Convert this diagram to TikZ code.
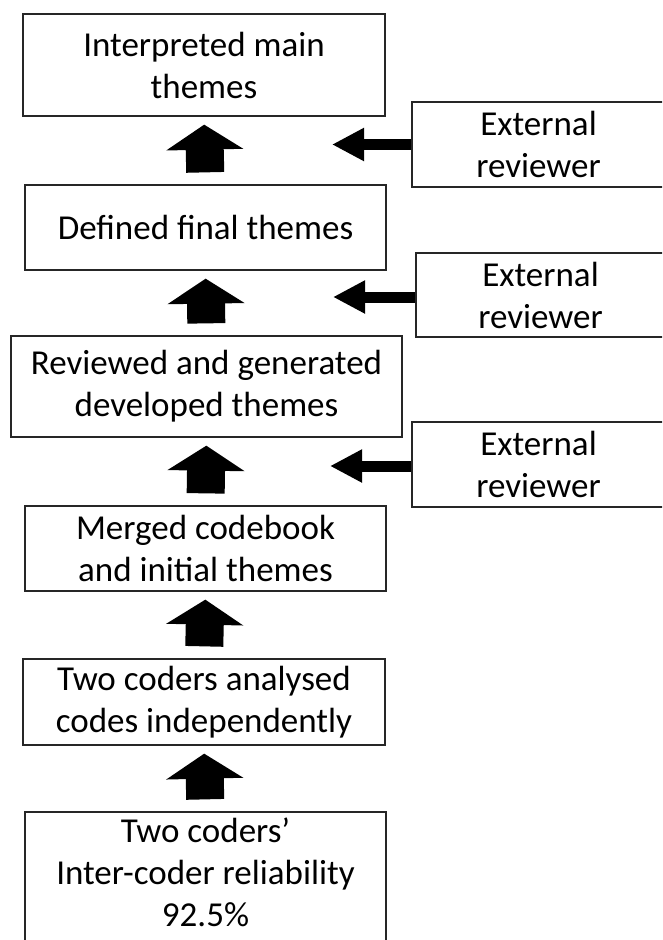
\documentclass[tikz,border=0pt]{standalone}
\usepackage{fontspec}
\setmainfont{Carlito}
\usetikzlibrary{arrows.meta}
\begin{document}
\begin{tikzpicture}[x=1pt,y=-1pt,
  box/.style={draw=black!85, line width=1.3pt, align=center, inner sep=0pt,
    font=\fontsize{35}{42}\selectfont, text=black},
  upblock/.style={line width=38pt, -{Triangle[width=76pt,length=25pt]},
    shorten <=12pt, shorten >=8pt, black},
  leftblock/.style={line width=11pt, -{Triangle[width=31pt,length=32pt]}, black}]
\useasboundingbox (0,0) rectangle (662,940);
\clip (0,0) rectangle (662,940);
\fill[white] (0,0) rectangle (662,940);
% main column
\node[box, minimum width=362pt, minimum height=102pt] (b1) at (204,65) {Interpreted main\\themes};
\node[box, minimum width=361pt, minimum height=85pt] (b2) at (205.5,227.5) {Defined final themes};
\node[box, minimum width=391pt, minimum height=101pt] (b3) at (206.5,386.5) {Reviewed and generated\\developed themes};
\node[box, minimum width=361pt, minimum height=85pt] (b4) at (205.5,548.5) {Merged codebook\\and initial themes};
\node[box, minimum width=362pt, minimum height=86pt] (b5) at (204,702) {Two coders analysed\\codes independently};
\node[box, minimum width=361pt, minimum height=140pt, text depth=20pt] (b6) at (205.5,882) {Two coders’\\Inter-coder reliability\\92.5\%};
% external reviewers
\node[box, minimum width=253pt, minimum height=85pt] (e1) at (538.5,144.5) {External\\reviewer};
\node[box, minimum width=249pt, minimum height=84pt] (e2) at (540.5,295) {External\\reviewer};
\node[box, minimum width=253pt, minimum height=85pt] (e3) at (538.5,464.5) {External\\reviewer};
% upward block arrows
\draw[upblock] (b6.north) -- (b5.south);
\draw[upblock] (b5.north) -- (b4.south);
\draw[upblock] (b4.north) -- (b3.south);
\draw[upblock] (b3.north) -- (b2.south);
\draw[upblock] (b2.north) -- (b1.south);
% reviewer arrows
\coordinate (t1) at (332,144.5);
\coordinate (t2) at (333,297);
\coordinate (t3) at (330,466);
\draw[leftblock] (e1.west) -- (t1);
\draw[leftblock] (e2.west |- t2) -- (t2);
\draw[leftblock] (e3.west |- t3) -- (t3);
\end{tikzpicture}
\end{document}
